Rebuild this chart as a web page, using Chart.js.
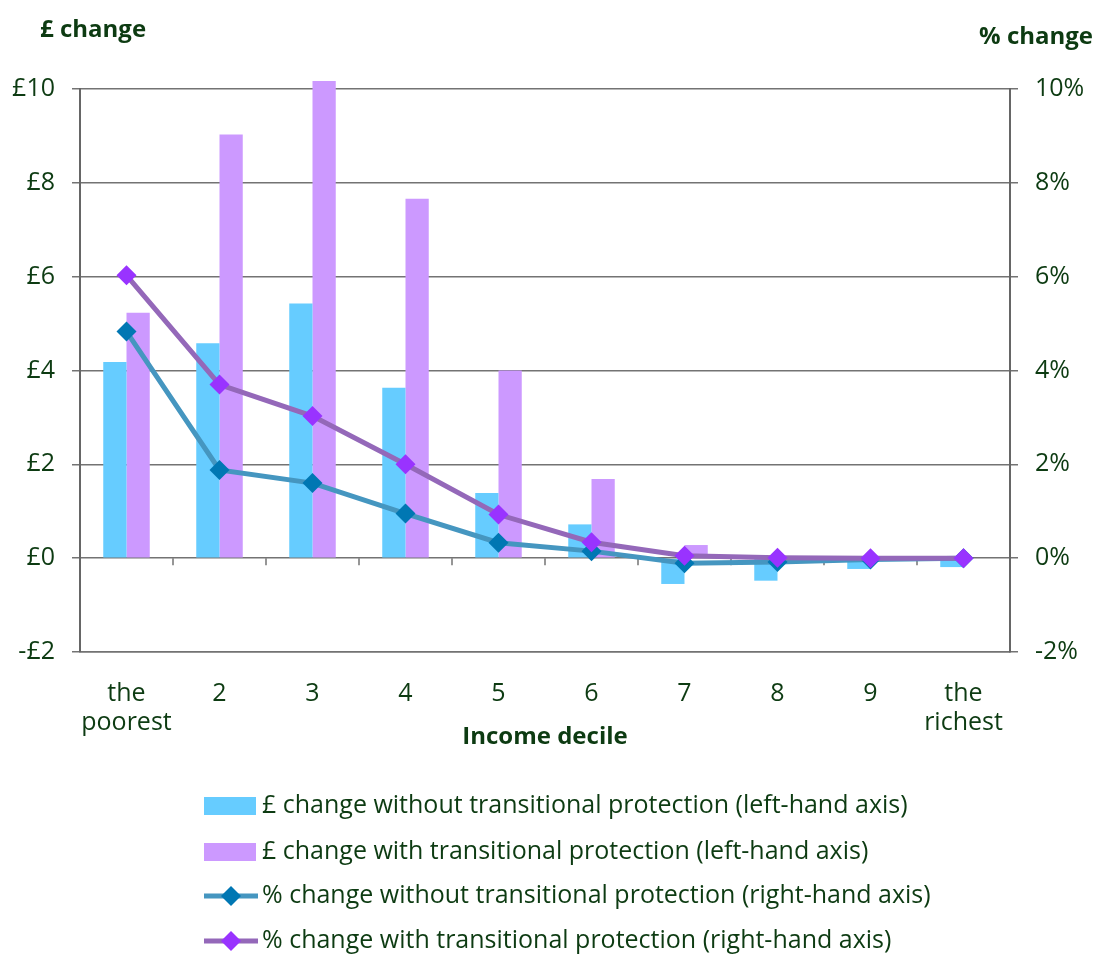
<!DOCTYPE html>
<html>
<head>
<meta charset="utf-8">
<style>
  body { margin: 0; background: #fff; }
  #wrap { width: 1096px; height: 954px; }
</style>
</head>
<body>
  <div id="wrap">
    <canvas id="myChart" width="1096" height="954"></canvas>
  </div>

<script src="https://cdn.jsdelivr.net/npm/chart.js@4/dist/chart.umd.min.js"></script>

<script>
  // values
  const deciles = [['the', 'poorest'], '2', '3', '4', '5', '6', '7', '8', '9', ['the', 'richest']]
  const poundWithout = [4.18, 4.58, 5.43, 3.63, 1.39, 0.72, -0.55, -0.48, -0.23, -0.19]
  const poundWith = [5.23, 9.03, 10.17, 7.66, 4.0, 1.69, 0.28, 0.02, 0.01, 0]
  const pctWithout = [4.83, 1.88, 1.6, 0.95, 0.33, 0.15, -0.11, -0.08, -0.03, 0]
  const pctWith = [6.03, 3.7, 3.03, 2.0, 0.93, 0.34, 0.05, 0.01, 0, 0]
  const axisMin = -2
  const axisMax = 10
  const axisStep = 2

  const labels = [
    '£ change without transitional protection (left-hand axis)',
    '£ change with transitional protection (left-hand axis)',
    '% change without transitional protection (right-hand axis)',
    '% change with transitional protection (right-hand axis)'
  ]

  const textColor = '#0d3b12'
  const gridGray = '#737373'
  const fontFamily = '"Open Sans", sans-serif'

  // titles, zero-line tick marks and the stacked legend
  const decor = {
    id: 'decor',
    beforeDatasetsDraw(chart) {
      const ctx = chart.ctx
      const x = chart.scales.x
      const y0 = chart.scales.y.getPixelForValue(0)
      ctx.save()
      ctx.strokeStyle = gridGray
      ctx.lineWidth = 1.5
      for (let i = 1; i < deciles.length; i++) {
        const px = x.left + (x.right - x.left) * i / deciles.length
        ctx.beginPath()
        ctx.moveTo(px, y0)
        ctx.lineTo(px, y0 + 7)
        ctx.stroke()
      }
      ctx.restore()
    },
    afterDraw(chart) {
      const ctx = chart.ctx
      ctx.save()
      ctx.fillStyle = textColor
      ctx.textBaseline = 'middle'
      ctx.font = 'bold 24px ' + fontFamily
      ctx.textAlign = 'left'
      ctx.fillText('£ change', 40, 30)
      ctx.textAlign = 'right'
      ctx.fillText('% change', 1093, 37)

      const rows = [806, 852, 896, 941]
      const ds = chart.data.datasets
      ctx.font = '25px ' + fontFamily
      ctx.textAlign = 'left'
      rows.forEach((ry, i) => {
        const d = ds[i]
        if (d.type === 'line') {
          ctx.strokeStyle = d.borderColor
          ctx.lineWidth = 5
          ctx.beginPath()
          ctx.moveTo(204, ry)
          ctx.lineTo(258, ry)
          ctx.stroke()
          ctx.fillStyle = d.pointBackgroundColor
          ctx.beginPath()
          ctx.moveTo(231, ry - 10)
          ctx.lineTo(241, ry)
          ctx.lineTo(231, ry + 10)
          ctx.lineTo(221, ry)
          ctx.closePath()
          ctx.fill()
        } else {
          ctx.fillStyle = d.backgroundColor
          ctx.fillRect(204, ry - 9, 52, 18)
        }
        ctx.fillStyle = textColor
        ctx.fillText(d.label, 262, ry)
      })
      ctx.restore()
    }
  }

  const ctx = document.getElementById('myChart')

  new Chart(ctx, {
    type: 'bar',
    data: {
      labels: deciles,
      datasets: [
        {
          label: labels[0],
          data: poundWithout,
          backgroundColor: '#66ccff',
          yAxisID: 'y',
          order: 3,
          categoryPercentage: 0.5,
          barPercentage: 1.0
        },
        {
          label: labels[1],
          data: poundWith,
          backgroundColor: '#cc99ff',
          yAxisID: 'y',
          order: 3,
          clip: false,
          categoryPercentage: 0.5,
          barPercentage: 1.0
        },
        {
          type: 'line',
          label: labels[2],
          data: pctWithout,
          yAxisID: 'y1',
          borderColor: '#4596c0',
          borderWidth: 5,
          pointStyle: 'rectRot',
          pointRadius: 10,
          pointBackgroundColor: '#0077b3',
          pointBorderWidth: 0,
          order: 2,
          clip: false
        },
        {
          type: 'line',
          label: labels[3],
          data: pctWith,
          yAxisID: 'y1',
          borderColor: '#9468b9',
          borderWidth: 5,
          pointStyle: 'rectRot',
          pointRadius: 10,
          pointBackgroundColor: '#9933ff',
          pointBorderWidth: 0,
          order: 1,
          clip: false
        }
      ]
    },
    options: {
      responsive: false,
      animation: false,
      layout: { padding: { top: 89, bottom: 202, left: 0, right: 0 } },
      plugins: {
        legend: { display: false },
        tooltip: { enabled: false }
      },
      scales: {
        x: {
          grid: { display: false },
          border: { display: true, color: gridGray, width: 1.5 },
          ticks: {
            color: textColor,
            font: { family: fontFamily, size: 25, lineHeight: 1.16 },
            padding: 19,
            maxRotation: 0,
            autoSkip: false
          },
          title: {
            display: true,
            text: 'Income decile',
            color: textColor,
            font: { family: fontFamily, size: 24, weight: 'bold' },
            padding: 0
          },
          afterFit: s => { s.height = 100 }
        },
        y: {
          position: 'left',
          min: axisMin,
          max: axisMax,
          ticks: {
            stepSize: axisStep,
            padding: 17,
            color: textColor,
            font: { family: fontFamily, size: 25 },
            callback: v => (v < 0 ? '-£' : '£') + Math.abs(v)
          },
          grid: { color: gridGray, lineWidth: 1.5, tickLength: 8, tickColor: gridGray },
          border: { color: '#666', width: 2 },
          afterFit: s => { s.width = 80 }
        },
        y1: {
          position: 'right',
          min: axisMin,
          max: axisMax,
          ticks: {
            stepSize: axisStep,
            padding: 17,
            color: textColor,
            font: { family: fontFamily, size: 25 },
            callback: v => v + '%'
          },
          grid: { drawOnChartArea: false, color: gridGray, lineWidth: 1.5, tickLength: 8 },
          border: { color: '#666', width: 2 },
          afterFit: s => { s.width = 86 }
        }
      }
    },
    plugins: [decor]
  })
</script>
</body>
</html>
